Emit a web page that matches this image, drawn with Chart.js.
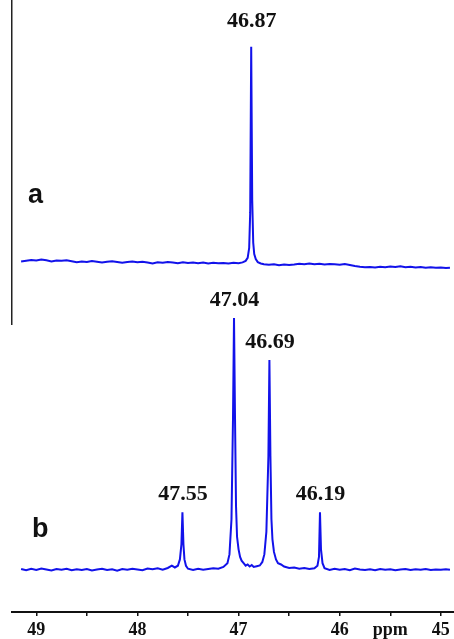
<!DOCTYPE html>
<html>
<head>
<meta charset="utf-8">
<script src="https://cdn.jsdelivr.net/npm/chart.js@4.4.1/dist/chart.umd.min.js"></script>
<style>
  html, body { margin: 0; padding: 0; background: #fff; }
  canvas { display: block; }
</style>
</head>
<body>
<canvas id="chart" width="454" height="639"></canvas>
<script>
// x axis (ppm, reversed)
const tickValues = [49, 48.5, 48, 47.5, 47, 46.5, 46, 45.5, 45];
const tickLabels = ['49', '', '48', '', '47', '', '46', 'ppm', '45'];

// spectrum a : ppm / intensity (relative to its own baseline)
const ppmA = [49.15, 49.10, 49.05, 49.00, 48.95, 48.90, 48.85, 48.80, 48.75, 48.70,
  48.65, 48.60, 48.55, 48.50, 48.45, 48.40, 48.35, 48.30, 48.25, 48.20,
  48.15, 48.10, 48.05, 48.00, 47.95, 47.90, 47.85, 47.80, 47.75, 47.70,
  47.65, 47.60, 47.55, 47.50, 47.45, 47.40, 47.35, 47.30, 47.25, 47.20,
  47.15, 47.10, 47.05, 47.00, 46.96, 46.93, 46.91, 46.895, 46.885, 46.875,
  46.865, 46.855, 46.845, 46.83, 46.81, 46.78, 46.75, 46.70, 46.65, 46.60,
  46.55, 46.50, 46.45, 46.40, 46.35, 46.30, 46.25, 46.20, 46.15, 46.10,
  46.05, 46.00, 45.95, 45.90, 45.85, 45.80, 45.75, 45.70, 45.65, 45.60,
  45.55, 45.50, 45.45, 45.40, 45.35, 45.30, 45.25, 45.20, 45.15, 45.10,
  45.05, 45.00, 44.95, 44.91];
const intA = [0.6, 0.9, 1.2, 1.0, 1.4, 1.1, 0.6, 1.0, 0.9, 1.1,
  0.7, 0.3, 0.6, 0.4, 0.8, 0.5, 0.2, 0.5, 0.7, 0.4,
  0.1, 0.4, 0.6, 0.3, 0.5, 0.2, -0.2, 0.3, 0.1, 0.4,
  0.2, -0.1, 0.3, 0.0, 0.2, -0.1, 0.2, -0.2, 0.1, -0.1,
  0.0, -0.2, 0.1, -0.1, 0.2, 0.8, 2, 6, 20, 86,
  25, 8, 3.5, 1.5, 0.3, -0.2, -0.5, -0.7, -0.5, -0.9,
  -0.6, -0.8, -0.6, -0.3, -0.5, -0.2, -0.5, -0.3, -0.6, -0.4,
  -0.5, -0.7, -0.4, -0.8, -1.2, -1.5, -1.7, -1.6, -1.8, -1.5,
  -1.7, -1.4, -1.6, -1.3, -1.7, -1.5, -1.8, -1.6, -1.9, -1.7,
  -1.9, -1.8, -2.0, -1.9];

// spectrum b
const ppmB = [49.15, 49.10, 49.05, 49.00, 48.95, 48.90, 48.85, 48.80, 48.75, 48.70,
  48.65, 48.60, 48.55, 48.50, 48.45, 48.40, 48.35, 48.30, 48.25, 48.20,
  48.15, 48.10, 48.05, 48.00, 47.95, 47.90, 47.85, 47.80, 47.75, 47.70,
  47.66, 47.63, 47.60, 47.58, 47.565, 47.555, 47.545, 47.535, 47.52, 47.50,
  47.45, 47.40, 47.35, 47.30, 47.25, 47.20, 47.15, 47.11, 47.09, 47.07,
  47.055, 47.045, 47.035, 47.025, 47.015, 47.00, 46.985, 46.97, 46.95, 46.93,
  46.91, 46.89, 46.87, 46.85, 46.82, 46.79, 46.765, 46.745, 46.725, 46.705,
  46.695, 46.685, 46.675, 46.665, 46.65, 46.63, 46.61, 46.58, 46.55, 46.50,
  46.45, 46.40, 46.35, 46.30, 46.25, 46.22, 46.205, 46.195, 46.185, 46.17,
  46.15, 46.10, 46.05, 46.00, 45.95, 45.90, 45.85, 45.80, 45.75, 45.70,
  45.65, 45.60, 45.55, 45.50, 45.45, 45.40, 45.35, 45.30, 45.25, 45.20,
  45.15, 45.10, 45.05, 45.00, 44.95, 44.91];
const intB = [0.2, -0.3, 0.3, -0.2, 0.4, 0, -0.4, 0.2, -0.1, 0.3,
  -0.3, 0.1, -0.2, 0.2, -0.4, 0, 0.3, -0.2, 0.1, -0.5,
  0.2, -0.1, 0.3, 0, -0.3, 0.4, 0.1, 0.5, -0.1, 0.6,
  1.5, 0.8, 1.5, 4, 10, 22.7, 10, 4, 1.5, 0.3,
  -0.2, 0.3, -0.1, 0.2, 0.5, 0.3, 1, 2.5, 6, 20,
  60, 100, 60, 25, 13, 8, 5, 3.5, 2.5, 1.5,
  2.0, 1.2, 1.8, 1.0, 1.3, 1.6, 3, 6, 15, 45,
  83.3, 45, 20, 12, 7, 4, 2.5, 2, 1.2, 0.6,
  0.8, 0.3, 0.6, 0.2, 0.5, 1.5, 5, 22.7, 8, 2.5,
  0.5, -0.2, 0.3, -0.1, 0.2, -0.3, 0.4, 0, -0.2, 0.1,
  -0.3, 0.2, -0.1, 0.1, -0.3, 0, 0.2, -0.2, 0.1, -0.1,
  0.2, -0.2, 0, -0.1, 0.1, -0.1];

// labelled peaks
const peaksA = [46.87];
const peakHeightsA = [86];
const peaksB = [47.55, 47.04, 46.69, 46.19];
const peakHeightsB = [22.7, 100, 83.3, 22.7];

const blue = '#1212ea';
const serif = "'Liberation Serif', 'Times New Roman', serif";
const sans = "'Liberation Sans', Arial, sans-serif";

const labelsPlugin = {
  id: 'peakLabels',
  afterDatasetsDraw(chart) {
    const ctx = chart.ctx;
    const x = chart.scales.x;
    const drawPeaks = (peaks, heights, axis, gap) => {
      const y = chart.scales[axis];
      peaks.forEach((p, i) => {
        ctx.fillText(p.toFixed(2), x.getPixelForValue(p), y.getPixelForValue(heights[i]) - gap);
      });
    };
    ctx.save();
    ctx.fillStyle = '#111';
    ctx.font = 'bold 22px ' + serif;
    ctx.textAlign = 'center';
    ctx.textBaseline = 'middle';
    drawPeaks(peaksA, peakHeightsA, 'yA', 25);
    drawPeaks(peaksB, peakHeightsB, 'yB', 18);

    ctx.font = 'bold 27px ' + sans;
    ctx.textAlign = 'left';
    ctx.textBaseline = 'alphabetic';
    ctx.fillText('a', chart.chartArea.left + 16, chart.scales.yA.getPixelForValue(0) - 60);
    ctx.fillText('b', chart.chartArea.left + 20, chart.scales.yB.getPixelForValue(0) - 32);
    ctx.restore();
  }
};

const lineStyle = {
  borderColor: blue,
  borderWidth: 2,
  pointRadius: 0,
  tension: 0,
  fill: false,
  clip: false
};

new Chart(document.getElementById('chart'), {
  type: 'line',
  data: {
    datasets: [
      Object.assign({ label: 'a', yAxisID: 'yA', data: ppmA.map((v, i) => ({ x: v, y: intA[i] })) }, lineStyle),
      Object.assign({ label: 'b', yAxisID: 'yB', data: ppmB.map((v, i) => ({ x: v, y: intB[i] })) }, lineStyle)
    ]
  },
  options: {
    responsive: false,
    animation: false,
    layout: { padding: { left: 12, right: 0, top: 0, bottom: 0 } },
    plugins: { legend: { display: false }, tooltip: { enabled: false } },
    scales: {
      x: {
        type: 'linear',
        reverse: true,
        min: 44.87,
        max: 49.24,
        afterBuildTicks: (scale) => { scale.ticks = tickValues.map(v => ({ value: v })); },
        afterFit: (scale) => { scale.height = 27; },
        ticks: {
          autoSkip: false,
          maxRotation: 0,
          padding: 4,
          color: '#111',
          font: { family: serif, size: 18, weight: 'bold', lineHeight: 1.2 },
          callback: (value) => tickLabels[tickValues.indexOf(value)]
        },
        grid: { display: true, drawOnChartArea: false, drawTicks: true, tickLength: 4, color: '#111', lineWidth: 1.5 },
        border: { display: true, color: '#111', width: 2 }
      },
      yB: {
        type: 'linear',
        position: 'left',
        stack: 'spectra',
        stackWeight: 8,
        min: -16.9,
        max: 97.6,
        ticks: { display: false },
        grid: { display: false, drawTicks: false },
        border: { display: false }
      },
      yA: {
        type: 'linear',
        position: 'left',
        stack: 'spectra',
        stackWeight: 9,
        min: -24.3,
        max: 104.6,
        ticks: { display: false },
        grid: { display: false, drawTicks: false },
        border: { display: true, color: '#222', width: 1.5 }
      }
    }
  },
  plugins: [labelsPlugin]
});
</script>
</body>
</html>
